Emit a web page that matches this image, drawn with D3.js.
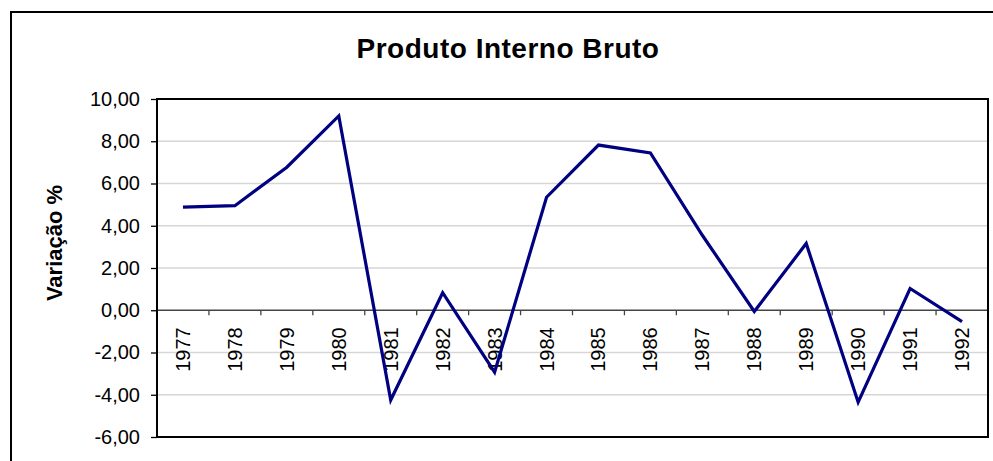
<!DOCTYPE html>
<html>
<head>
<meta charset="utf-8">
<script src="https://cdn.jsdelivr.net/npm/d3@7"></script>
<style>
  body { margin: 0; background: #fff; }
  text { font-family: Arial, "Liberation Sans", sans-serif; fill: #000; }
</style>
</head>
<body>
<div id="viz-container"></div>
<script>
// dados
var anos = ["1977","1978","1979","1980","1981","1982","1983","1984","1985","1986","1987","1988","1989","1990","1991","1992"];
var variacao = [4.88, 4.95, 6.77, 9.20, -4.25, 0.83, -2.93, 5.35, 7.82, 7.45, 3.55, -0.06, 3.16, -4.35, 1.03, -0.54];
var yTicks = [-6, -4, -2, 0, 2, 4, 6, 8, 10];

var width = 993, height = 461;
var margin = {top: 99, right: 5, bottom: 24, left: 157};

var svg = d3.select("#viz-container")
            .append("svg")
            .attr("width", width)
            .attr("height", height);

// moldura externa (cortada a direita e embaixo)
svg.append("rect")
   .attr("x", 11).attr("y", 12)
   .attr("width", 1000).attr("height", 500)
   .attr("fill", "none")
   .attr("stroke", "#000")
   .attr("stroke-width", 2);

var x = d3.scaleBand()
          .domain(anos)
          .range([margin.left, width - margin.right])
          .padding(0);

var y = d3.scaleLinear()
          .domain([-6, 10])
          .range([height - margin.bottom, margin.top]);

var pt = d3.formatLocale({decimal: ",", thousands: ".", grouping: [3], currency: ["R$", ""], minus: "-"});
var fmt = pt.format(".2f");

// grade
svg.append("g")
   .selectAll("line")
   .data(yTicks.filter(function(d){ return d !== 0 && d !== -6 && d !== 10; }))
   .enter().append("line")
   .attr("x1", margin.left).attr("x2", width - margin.right)
   .attr("y1", function(d){ return y(d); })
   .attr("y2", function(d){ return y(d); })
   .attr("stroke", "#d6d6d6")
   .attr("stroke-width", 1.5);

// eixo y
var yAxis = svg.append("g")
   .attr("transform", "translate(" + margin.left + ",0)")
   .call(d3.axisLeft(y).tickValues(yTicks).tickFormat(fmt).tickSize(6).tickPadding(11));
yAxis.select(".domain").remove();
yAxis.selectAll(".tick line").attr("stroke", "#000").attr("stroke-width", 1.3);
yAxis.selectAll("text").style("font-size", "20px").attr("fill", "#000");

// linha do zero com marcas entre categorias
svg.append("line")
   .attr("x1", margin.left).attr("x2", width - margin.right)
   .attr("y1", y(0)).attr("y2", y(0))
   .attr("stroke", "#444")
   .attr("stroke-width", 1.5);

var limites = anos.slice(1).map(function(a){ return x(a); });
svg.append("g")
   .selectAll("line")
   .data(limites)
   .enter().append("line")
   .attr("x1", function(d){ return d; }).attr("x2", function(d){ return d; })
   .attr("y1", y(0)).attr("y2", y(0) + 5)
   .attr("stroke", "#444")
   .attr("stroke-width", 1.3);

// rotulos dos anos
svg.append("g")
   .selectAll("text")
   .data(anos)
   .enter().append("text")
   .attr("transform", function(d){
      return "translate(" + (x(d) + x.bandwidth() / 2 + 7) + "," + (y(0) + 17) + ") rotate(-90)";
   })
   .attr("text-anchor", "end")
   .style("font-size", "20px")
   .text(function(d){ return d; });

// serie
var linha = d3.line()
   .x(function(d, i){ return x(anos[i]) + x.bandwidth() / 2; })
   .y(function(d){ return y(d); });

svg.append("path")
   .datum(variacao)
   .attr("d", linha)
   .attr("fill", "none")
   .attr("stroke", "#000080")
   .attr("stroke-width", 3.2)
   .attr("stroke-linejoin", "miter");

// borda da area do grafico
svg.append("rect")
   .attr("x", margin.left).attr("y", margin.top)
   .attr("width", width - margin.right - margin.left)
   .attr("height", height - margin.bottom - margin.top)
   .attr("fill", "none")
   .attr("stroke", "#000")
   .attr("stroke-width", 2);

// titulo
svg.append("text")
   .attr("x", 508).attr("y", 57.5)
   .attr("text-anchor", "middle")
   .style("font-size", "28px")
   .style("font-weight", "bold")
   .style("letter-spacing", "0.5px")
   .text("Produto Interno Bruto");

// titulo do eixo y
svg.append("text")
   .attr("transform", "translate(62,243) rotate(-90)")
   .attr("text-anchor", "middle")
   .style("font-size", "22px")
   .style("font-weight", "bold")
   .text("Variação %");
</script>
</body>
</html>
